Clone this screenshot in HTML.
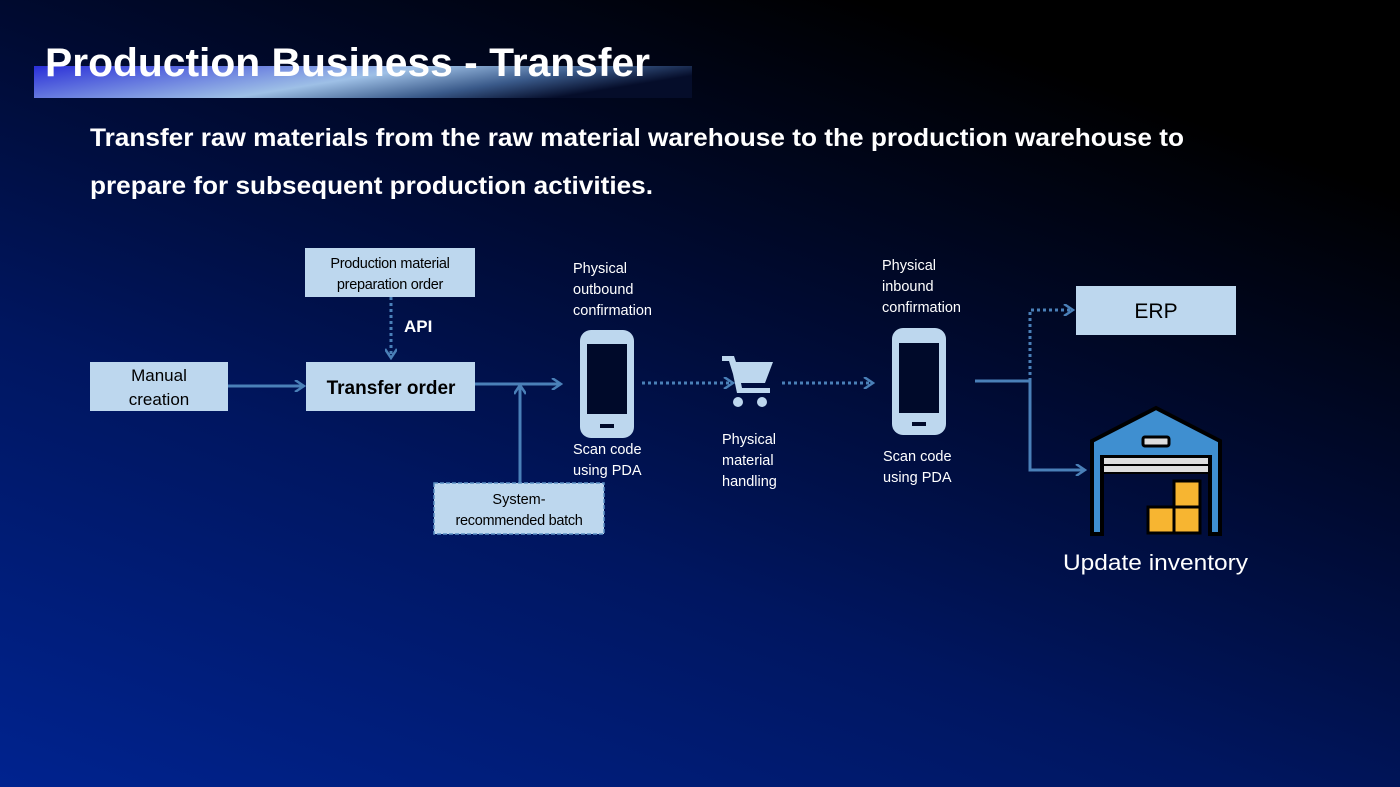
<!DOCTYPE html>
<html><head><meta charset="utf-8"><style>
html,body{margin:0;padding:0}
body{width:1400px;height:787px;overflow:hidden;background:linear-gradient(20deg,#00238f 0%,#001660 35%,#000a30 60%,#000 85%);font-family:"Liberation Sans",sans-serif;position:relative}
</style></head><body>
<svg width="1400" height="787" style="position:absolute;left:0;top:0">
<defs>
<linearGradient id="tb" x1="0" y1="0" x2="1" y2="0.3">
<stop offset="0" stop-color="#2a2fd8"/><stop offset="0.55" stop-color="#9ec0e6"/><stop offset="0.8" stop-color="#3a5a8a"/><stop offset="1" stop-color="#050d2a"/>
</linearGradient>
<marker id="ar" markerWidth="12" markerHeight="12" refX="9" refY="6" orient="auto" markerUnits="userSpaceOnUse">
<path d="M1,0 L10,6 L1,12" fill="none" stroke="#4a80b8" stroke-width="2.5"/></marker>
</defs>
<rect x="34" y="66" width="658" height="32" fill="url(#tb)"/>
<text x="45" y="76" font-size="40" font-weight="bold" fill="#fff" textLength="605" lengthAdjust="spacingAndGlyphs">Production Business - Transfer</text>
<text x="90" y="146" font-size="25" font-weight="bold" fill="#fff" textLength="1094" lengthAdjust="spacingAndGlyphs">Transfer raw materials from the raw material warehouse to the production warehouse to</text>
<text x="90" y="194" font-size="25" font-weight="bold" fill="#fff" textLength="563" lengthAdjust="spacingAndGlyphs">prepare for subsequent production activities.</text>

<g stroke="#4a80b8" stroke-width="3" fill="none">
<line x1="228" y1="386" x2="303" y2="386" marker-end="url(#ar)"/>
<line x1="475" y1="384" x2="560" y2="384" marker-end="url(#ar)"/>
<line x1="520" y1="483" x2="520" y2="386" marker-end="url(#ar)"/>
<line x1="391" y1="297" x2="391" y2="357" stroke-dasharray="3,3" marker-end="url(#ar)"/>
<line x1="642" y1="383" x2="732" y2="383" stroke-dasharray="3,3" marker-end="url(#ar)"/>
<line x1="782" y1="383" x2="872" y2="383" stroke-dasharray="3,3" marker-end="url(#ar)"/>
<polyline points="975,381 1030,381 1030,470 1084,470" marker-end="url(#ar)"/>
<polyline points="1030,381 1030,310 1072,310" stroke-dasharray="3,3" marker-end="url(#ar)"/>
</g>

<g fill="#bdd7ee">
<rect x="90" y="362" width="138" height="49"/>
<rect x="306" y="362" width="169" height="49"/>
<rect x="305" y="248" width="170" height="49"/>
<rect x="434" y="483" width="170" height="51" stroke="#5b8fc4" stroke-width="1.5" stroke-dasharray="4,2"/>
<rect x="1076" y="286" width="160" height="49"/>
</g>
<g fill="#000" font-family="Liberation Sans,sans-serif" text-anchor="middle">
<text x="159" y="381" font-size="17">Manual</text>
<text x="159" y="405" font-size="17">creation</text>
<text x="391" y="394" font-size="19" font-weight="bold">Transfer order</text>
<text x="390" y="268" font-size="14.5" letter-spacing="-0.3">Production material</text>
<text x="390" y="289" font-size="14.5" letter-spacing="-0.3">preparation order</text>
<text x="519" y="504" font-size="14.5">System-</text>
<text x="519" y="525" font-size="14.5" letter-spacing="-0.3">recommended batch</text>
<text x="1156" y="318" font-size="21">ERP</text>
</g>
<text x="404" y="332" font-size="17" font-weight="bold" fill="#fff">API</text>

<g fill="#fff" font-size="14.5">
<text x="573" y="273">Physical</text><text x="573" y="294">outbound</text><text x="573" y="315">confirmation</text>
<text x="573" y="454">Scan code</text><text x="573" y="475">using PDA</text>
<text x="722" y="444">Physical</text><text x="722" y="465">material</text><text x="722" y="486">handling</text>
<text x="882" y="270">Physical</text><text x="882" y="291">inbound</text><text x="882" y="312">confirmation</text>
<text x="883" y="461">Scan code</text><text x="883" y="482">using PDA</text>
<text x="1063" y="570" font-size="22" textLength="185" lengthAdjust="spacingAndGlyphs">Update inventory</text>
</g>

<g>
<rect x="580" y="330" width="54" height="108" rx="11" fill="#bdd7ee"/>
<rect x="587" y="344" width="40" height="70" fill="#000a2a"/>
<rect x="600" y="424" width="14" height="4" fill="#000a2a"/>
<rect x="892" y="328" width="54" height="107" rx="11" fill="#bdd7ee"/>
<rect x="899" y="343" width="40" height="70" fill="#000a2a"/>
<rect x="912" y="422" width="14" height="4" fill="#000a2a"/>
</g>
<g fill="#bdd7ee">
<path d="M722,356 L734,356 L736,362 L773,362 L765,383 L741,383 L742,388 L770,388 L770,393 L737,393 L733,374 L729,361 L722,361 Z"/>
<circle cx="738" cy="402" r="5"/><circle cx="762" cy="402" r="5"/>
</g>
<g stroke="#000" stroke-width="4">
<path d="M1092,441 L1156,408 L1220,441 L1220,534 L1210,534 L1210,457 L1102,457 L1102,534 L1092,534 Z" fill="#3f8fd0"/>
<rect x="1143" y="437" width="26" height="9" rx="2" fill="#ddd" stroke-width="3"/>
<rect x="1103" y="457" width="106" height="8" fill="#ddd" stroke-width="2"/>
<rect x="1103" y="465" width="106" height="8" fill="#ddd" stroke-width="2"/>
<rect x="1174" y="481" width="26" height="26" fill="#f7b531" stroke-width="3"/>
<rect x="1148" y="507" width="26" height="26" fill="#f7b531" stroke-width="3"/>
<rect x="1174" y="507" width="26" height="26" fill="#f7b531" stroke-width="3"/>
</g>
</svg>
</body></html>
